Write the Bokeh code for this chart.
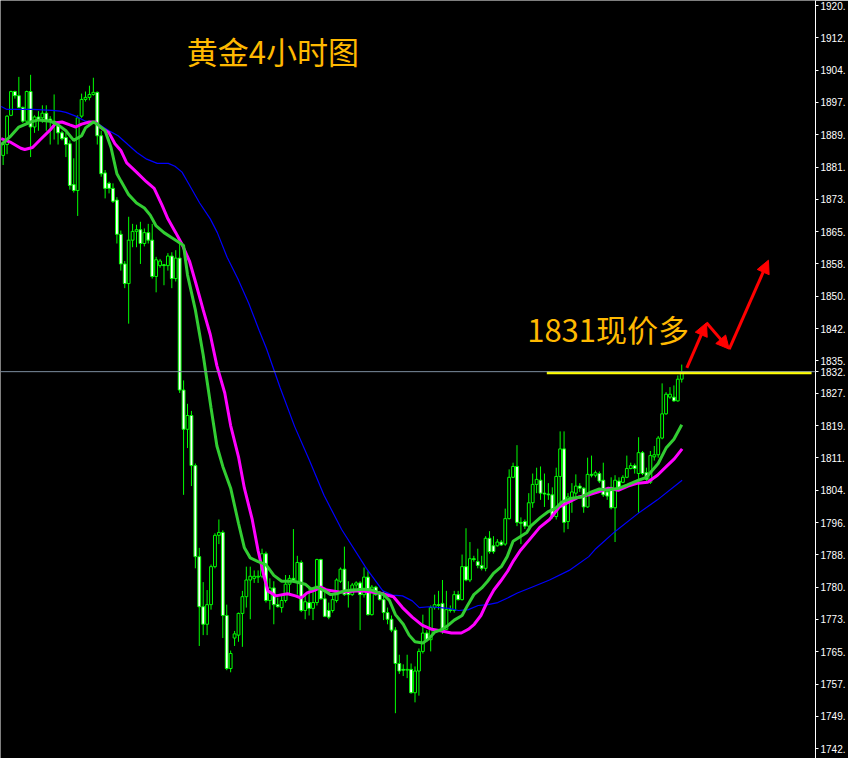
from bokeh.plotting import figure
from bokeh.models import (Range1d, FixedTicker, CustomJSTickFormatter, Span, Label,
                          Arrow, NormalHead, ColumnDataSource)
from bokeh.embed import file_html
from bokeh.resources import INLINE

# ---------------- data (gold, 4h candles) ----------------
opens = [1884.4,1887.0,1894.0,1899.7,1898.7,1895.9,1892.6,1899.7,1891.2,1893.6,
         1893.4,1894.5,1893.1,1892.6,1891.5,1889.8,1888.7,1887.2,1877.4,1876.0,
         1893.8,1897.8,1898.3,1899.0,1899.5,1889.1,1880.2,1877.7,1876.5,1873.7,
         1865.5,1858.4,1853.7,1864.1,1866.2,1866.6,1863.3,1865.9,1864.1,1855.4,
         1858.0,1858.2,1858.0,1860.3,1854.9,1859.8,1828.2,1818.8,1822.1,1810.1,
         1788.3,1776.3,1772.1,1776.8,1785.9,1793.4,1794.1,1774.2,1761.5,1768.8,
         1769.5,1774.7,1778.7,1782.7,1783.1,1783.4,1783.6,1789.0,1777.8,1780.8,
         1776.8,1776.1,1777.8,1781.7,1783.1,1782.4,1786.9,1775.4,1777.3,1775.9,
         1777.3,1787.6,1778.2,1775.4,1775.4,1777.8,1782.4,1785.3,1780.1,1779.2,
         1781.5,1782.0,1779.2,1783.4,1774.4,1781.0,1779.6,1778.0,1774.9,1773.3,
         1770.7,1762.7,1761.3,1761.1,1761.3,1755.7,1760.9,1765.6,1770.0,1768.4,
         1776.1,1776.8,1777.1,1770.9,1775.6,1775.4,1779.2,1778.0,1785.9,1782.7,
         1787.8,1787.1,1786.2,1785.5,1792.7,1790.9,1790.9,1791.8,1791.3,1797.4,
         1807.3,1809.9,1796.5,1796.7,1795.6,1801.2,1805.6,1806.6,1803.5,1803.3,
         1803.1,1797.9,1807.5,1814.1,1796.7,1802.3,1803.5,1805.2,1804.7,1800.2,
         1808.0,1807.8,1808.2,1806.6,1803.8,1804.9,1800.0,1806.4,1806.1,1807.3,
         1809.4,1810.1,1808.2,1813.2,1808.4,1806.1,1812.2,1812.7,1816.7,1822.5,
         1826.5,1826.5,1825.6,1830.8]
highs = [1887.2,1894.0,1899.9,1899.9,1903.2,1896.1,1899.9,1903.7,1894.0,1895.0,
         1896.4,1896.4,1893.8,1899.0,1892.2,1890.3,1889.8,1888.0,1883.7,1894.0,
         1899.2,1899.7,1901.1,1903.0,1899.7,1890.3,1880.9,1878.1,1877.7,1874.4,
         1866.4,1859.1,1869.7,1868.0,1867.8,1868.5,1866.9,1868.0,1868.0,1860.1,
         1859.6,1858.4,1861.0,1861.2,1861.7,1863.3,1830.5,1824.9,1823.2,1810.6,
         1790.4,1782.2,1780.3,1786.4,1793.9,1797.2,1794.6,1776.8,1765.8,1770.5,
         1774.9,1780.1,1785.9,1785.9,1785.0,1785.0,1790.2,1789.5,1783.1,1782.4,
         1778.5,1779.2,1783.9,1783.9,1794.9,1788.5,1787.4,1779.2,1780.8,1780.1,
         1787.8,1787.8,1780.8,1777.3,1779.2,1783.1,1785.7,1790.7,1782.4,1782.0,
         1782.4,1782.4,1785.7,1784.8,1781.5,1781.3,1780.1,1780.1,1776.1,1774.2,
         1771.4,1764.8,1762.5,1764.8,1762.7,1762.0,1766.3,1774.4,1770.7,1776.6,
         1779.2,1780.1,1782.7,1780.1,1776.6,1780.1,1780.1,1788.8,1795.1,1791.8,
         1788.5,1790.2,1788.5,1793.2,1794.4,1793.2,1792.5,1792.3,1799.8,1809.2,
         1810.8,1815.0,1797.7,1797.2,1803.5,1808.2,1809.6,1809.9,1808.2,1805.9,
         1804.9,1809.6,1818.3,1818.3,1803.5,1805.9,1808.0,1805.9,1804.9,1812.0,
         1812.5,1808.9,1808.7,1810.8,1804.7,1807.3,1807.8,1807.3,1807.8,1812.5,
         1810.8,1810.6,1816.9,1813.6,1809.6,1813.6,1814.8,1817.2,1829.8,1827.7,
         1828.9,1829.3,1831.7,1834.3]
lows = [1882.1,1884.7,1893.8,1898.0,1895.7,1892.2,1892.2,1884.0,1889.8,1890.3,
        1892.2,1890.3,1887.0,1888.2,1887.0,1888.0,1884.0,1876.2,1875.5,1869.9,
        1893.4,1897.3,1897.6,1898.7,1887.0,1879.3,1874.1,1875.3,1873.0,1863.3,
        1856.8,1852.6,1844.1,1862.4,1862.4,1858.4,1862.6,1863.3,1854.9,1851.6,
        1857.5,1853.3,1856.8,1852.6,1854.2,1827.5,1803.1,1814.3,1805.2,1785.5,
        1766.9,1769.5,1769.5,1775.6,1785.5,1791.3,1768.8,1761.1,1760.6,1766.9,
        1767.9,1766.7,1776.1,1773.3,1782.0,1782.0,1783.1,1777.3,1775.6,1772.1,
        1776.1,1774.9,1777.3,1779.2,1782.0,1779.2,1775.0,1773.3,1774.2,1773.1,
        1776.6,1778.0,1773.8,1773.3,1774.9,1777.3,1782.0,1778.9,1776.1,1778.9,
        1780.8,1770.7,1778.5,1774.2,1774.2,1778.9,1777.8,1773.1,1772.1,1770.2,
        1750.8,1760.2,1759.7,1759.2,1755.5,1753.4,1755.0,1765.1,1767.9,1765.6,
        1775.6,1775.6,1769.8,1770.7,1774.9,1774.9,1777.8,1777.8,1782.4,1782.2,
        1787.1,1785.5,1785.0,1784.8,1789.0,1789.0,1790.7,1790.9,1790.9,1797.2,
        1807.1,1795.6,1791.3,1794.9,1794.9,1800.0,1803.5,1801.9,1800.2,1801.9,
        1797.4,1797.2,1800.7,1794.1,1794.9,1798.8,1801.9,1803.8,1798.8,1800.0,
        1807.3,1807.3,1805.9,1802.6,1801.9,1799.6,1791.8,1804.7,1805.9,1807.1,
        1809.2,1808.2,1798.8,1807.8,1806.1,1805.7,1811.3,1812.0,1816.4,1822.3,
        1826.1,1825.4,1825.4,1830.0]
closes = [1887.0,1893.8,1899.7,1898.7,1895.9,1892.6,1899.7,1891.2,1893.6,1892.9,
          1894.5,1892.6,1892.6,1892.4,1889.8,1888.4,1887.0,1877.2,1876.0,1893.4,
          1897.8,1898.3,1899.0,1899.5,1889.1,1880.0,1876.5,1876.5,1873.4,1865.5,
          1858.4,1853.7,1864.1,1866.2,1866.6,1863.3,1865.9,1864.1,1855.4,1859.4,
          1859.1,1858.0,1860.3,1854.9,1859.8,1828.2,1818.8,1822.1,1810.1,1788.3,
          1776.3,1772.1,1776.8,1785.9,1793.4,1794.1,1774.2,1761.5,1765.1,1769.8,
          1774.7,1778.7,1782.7,1783.6,1783.6,1783.6,1789.0,1777.8,1780.8,1776.8,
          1776.3,1777.8,1781.7,1783.1,1782.7,1786.9,1775.4,1777.5,1775.9,1777.3,
          1787.6,1778.2,1774.0,1773.8,1778.0,1782.7,1785.3,1779.2,1779.2,1781.5,
          1782.0,1779.2,1783.4,1774.4,1781.0,1779.2,1778.0,1774.9,1773.3,1770.7,
          1762.7,1760.9,1761.1,1761.3,1755.7,1760.9,1765.6,1770.0,1768.4,1776.1,
          1776.8,1776.6,1770.9,1775.6,1775.4,1779.2,1778.0,1785.9,1782.7,1787.8,
          1787.6,1786.2,1785.5,1792.7,1789.5,1789.5,1791.8,1791.1,1797.4,1807.3,
          1809.9,1796.5,1796.3,1795.6,1801.2,1805.6,1806.8,1803.5,1803.3,1803.1,
          1797.9,1807.5,1814.1,1796.5,1802.6,1803.8,1805.2,1804.7,1800.2,1808.0,
          1807.8,1808.4,1806.4,1803.1,1802.8,1800.0,1806.6,1804.9,1807.3,1809.4,
          1810.1,1809.4,1813.2,1808.2,1806.8,1812.5,1812.7,1816.7,1822.5,1827.2,
          1827.2,1825.6,1830.8,1832.4]

# moving averages (x = candle index)
ma_fast_x = [-0.5,2,4,7,9,12,14,16,18,20,21,23,24,26,27.5,29,30,32,34,36,37.5,39,41,43,
             44.5,46,47,49,51,53,54.5,56,58,60,61.5,63,65,67,69,71,74,77,78.5,80,82,83.5,
             85,87,89,92,94,97,98.5,100,102,103.5,105,107,108.5,110,112,113.5,115,117,
             118.5,120,122,123.5,125,127,128.5,130,132,133.5,134.5,137,139,141,142.5,145,
             147.5,150,152,154,157,159,162,164,167,169,171,173]
ma_fast = [1887.0,1889.1,1891.2,1892.4,1892.9,1892.6,1891.7,1890.3,1888.0,1889.1,1891.0,
           1892.4,1891.9,1890.3,1886.3,1880.0,1878.3,1875.0,1873.0,1871.8,1870.1,1867.5,
           1865.9,1864.7,1863.8,1862.8,1855.8,1847.4,1836.6,1823.9,1814.8,1809.9,1804.7,
           1796.3,1790.4,1788.0,1787.1,1786.4,1783.8,1782.4,1782.4,1781.7,1780.5,1781.0,
           1780.1,1779.2,1779.4,1780.1,1780.3,1780.5,1780.3,1779.2,1777.8,1774.4,1772.1,
           1769.5,1767.9,1767.6,1768.6,1770.2,1770.9,1771.9,1773.1,1774.2,1776.8,1779.2,
           1780.8,1782.4,1784.3,1785.9,1788.3,1792.0,1793.2,1794.1,1795.6,1797.7,1799.1,
           1800.0,1801.4,1802.3,1802.6,1803.8,1804.5,1804.2,1804.7,1805.4,1806.6,1807.3,
           1810.6,1814.3,1816.4,1819.9]
ma_mid_x = [-0.5,2,4.5,5.5,7.5,9.5,12,13.5,15,17,18.5,20,22,23.5,25,27,28.5,30,31.5,34,
            36.5,38.5,40.5,42,44,45.5,47.5,49,51,52.8,54.5,56.5,58,60,61.5,63.5,65,66.5,
            67.5,69.5,72.5,74.5,76,77.5,79.5,81,82.5,86,91,96,99.5,101.8,104.3,106.8,
            109.3,111.8,114.3,116.8,118.6,120.1,121.8,123.6,125.1,126.8,128.6,130.1,131.8,
            134.3,136.8,139.3,141.8,144.3,146.8,149.3,151.8,154.3,156.8,159.3,161.8,164.3,
            166.8,169.3,171.1,173.1]
ma_mid = [1888.4,1887.5,1886.1,1885.8,1886.3,1888.2,1890.5,1892.2,1892.4,1891.7,1891.2,
          1891.9,1892.4,1892.4,1891.0,1889.8,1887.2,1885.6,1882.6,1880.4,1878.1,1876.5,
          1872.5,1869.2,1865.9,1863.3,1859.1,1854.2,1847.4,1841.5,1834.0,1827.5,1819.7,
          1812.2,1804.7,1797.2,1789.7,1783.6,1780.1,1778.9,1779.4,1778.9,1778.4,1779.6,
          1780.3,1781.0,1780.3,1779.8,1780.1,1779.6,1778.7,1776.1,1773.8,1771.9,1770.9,
          1770.5,1770.0,1770.0,1770.9,1772.1,1774.2,1777.8,1780.3,1782.4,1784.8,1787.3,
          1789.7,1792.5,1795.3,1797.2,1800.2,1801.4,1802.6,1803.1,1803.8,1804.7,1804.2,
          1805.2,1805.9,1806.1,1807.8,1810.1,1811.7,1814.1]
ma_slow_x = [-0.5,1,7.5,12.5,14.5,16,18.5,21,23.5,25,27,29.3,31.8,34.1,36.6,39.3,42.1,
             43.8,45.6,47.3,50.1,52.8,54.6,57.1,59.8,62.6,65.3,67.1,70.6,74.3,78.1,81.8,
             86.3,92.6,96.8,99.3,101.8,104.3,106.1,108.6,113.6,116.1,118.6,121.1,123.6,
             126.1,128.6,131.1,134.3,139.3,144.3,149.3,151.1,156.1,161.8,166.8,173.1]
ma_slow = [1896.1,1895.4,1895.4,1895.2,1895.0,1894.7,1893.8,1892.6,1892.4,1891.5,1890.3,
           1889.1,1887.0,1885.1,1883.5,1882.5,1882.5,1881.8,1880.4,1877.6,1873.0,1869.2,
           1865.9,1860.0,1854.9,1849.0,1842.4,1838.2,1828.8,1819.5,1811.3,1803.0,1794.8,
           1785.5,1780.1,1779.1,1778.9,1777.7,1776.1,1776.3,1775.9,1775.4,1775.6,1776.6,
           1776.8,1777.3,1778.4,1779.6,1780.8,1782.7,1785.0,1788.3,1790.2,1794.4,1798.6,
           1801.9,1806.6]

# price scale
tick_values = [1742.30,1750.04,1757.78,1765.52,1773.26,1781.00,1788.73,1796.47,
               1804.21,1811.95,1819.69,1827.43,1835.17,1842.91,1850.65,1858.39,
               1866.12,1873.86,1881.60,1889.34,1897.08,1904.82,1912.56,1920.30]
tick_labels = ["1742.","1749.","1757.","1765.","1773.","1780.","1788.","1796.",
               "1804.","1811.","1819.","1827.","1835.","1842.","1850.","1858.",
               "1865.","1873.","1881.","1889.","1897.","1904.","1912.","1920."]

current_price = 1832.6
current_label = "1832."
entry_price = 1832.35
entry_start, entry_end = 138.6, 206.1

# planned path (red arrows): candle index, price
path_x = [174.3, 179.3, 185.1, 195.1]
path_y = [1833.5, 1844.3, 1838.0, 1859.3]

title_text = "黄金4小时图"
note_text = "1831现价多"

# ---------------- figure ----------------
p = figure(width=848, height=758, output_backend="svg", toolbar_location=None,
           x_range=Range1d(-0.675, 207.1), y_range=Range1d(1739.95, 1921.5),
           x_axis_location=None, y_axis_location="right",
           background_fill_color="black", border_fill_color="black",
           min_border=0, outline_line_color=None)
p.grid.visible = False

all_ticks = tick_values + [current_price]
all_labels = tick_labels + [current_label]
ax = p.yaxis[0]
ax.ticker = FixedTicker(ticks=all_ticks)
ax.formatter = CustomJSTickFormatter(
    args=dict(vals=all_ticks, labels=all_labels),
    code="for (let i = 0; i < vals.length; i++) { if (Math.abs(vals[i] - tick) < 0.01) return labels[i]; } return '';")
ax.axis_line_color = "white"
ax.major_tick_line_color = "white"
ax.major_tick_out = 3
ax.major_tick_in = 0
ax.minor_tick_line_color = None
ax.major_label_text_color = "white"
ax.major_label_text_font = "Liberation Sans"
ax.major_label_text_font_size = "10px"
ax.major_label_standoff = 2

# current price line
p.add_layout(Span(location=current_price, dimension="width", line_color="#7d8fa0", line_width=1))

# candles
idx = list(range(len(closes)))
tops = [max(o, c) for o, c in zip(opens, closes)]
bots = [min(o, c) for o, c in zip(opens, closes)]
fills = ["black" if c >= o else "white" for o, c in zip(opens, closes)]
src = ColumnDataSource(dict(x=idx, high=highs, low=lows, top=tops, bottom=bots, fill=fills))
p.segment(x0="x", y0="high", x1="x", y1="low", source=src, line_color="#00ff00", line_width=1)
p.vbar(x="x", width=0.72, top="top", bottom="bottom", source=src,
       fill_color="fill", line_color="#00ff00", line_width=1)

# moving averages
p.line(ma_slow_x, ma_slow, line_color="#0000ff", line_width=1.2)
p.line(ma_mid_x, ma_mid, line_color="#ff00ff", line_width=3)
p.line(ma_fast_x, ma_fast, line_color="#32cd32", line_width=3)

# entry level
p.segment(x0=[entry_start], y0=[entry_price], x1=[entry_end], y1=[entry_price],
          line_color="#ffff00", line_width=3)

# red arrows
for i in range(len(path_x) - 1):
    p.add_layout(Arrow(end=NormalHead(size=13, fill_color="#ff0000", line_color="#ff0000"),
                       x_start=path_x[i], y_start=path_y[i], x_end=path_x[i + 1], y_end=path_y[i + 1],
                       line_color="#ff0000", line_width=3))

# texts
p.add_layout(Label(x=46.8, y=1909.5, text=title_text, text_color="#ffb900",
                   text_font="Noto Sans CJK SC", text_font_size="31px",
                   text_align="left", text_baseline="middle"))
p.add_layout(Label(x=133.6, y=1842.9, text=note_text, text_color="#ffb900",
                   text_font="Noto Sans CJK SC", text_font_size="31px",
                   text_align="left", text_baseline="middle"))

open("out.html", "w").write(file_html(p, INLINE))
